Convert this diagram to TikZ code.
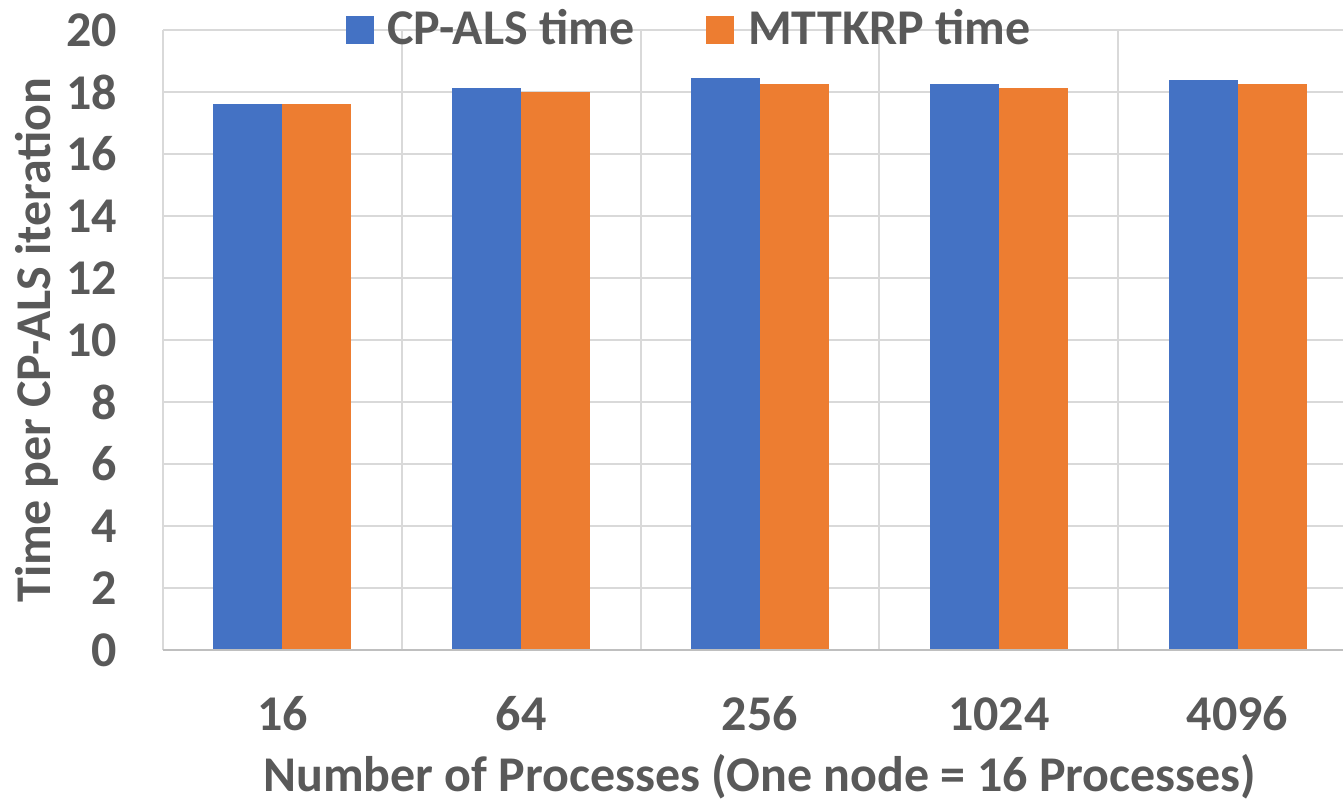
\documentclass[tikz,border=0pt]{standalone}
\usepackage{fontspec}
\setmainfont{Carlito}
\definecolor{txt}{HTML}{595959}
\definecolor{gridc}{HTML}{D9D9D9}
\definecolor{axisc}{HTML}{BFBFBF}
\definecolor{serA}{HTML}{4472C4}
\definecolor{serB}{HTML}{ED7D31}
\tikzset{
  lbl/.style={text=txt, font=\bfseries\fontsize{50}{55}\selectfont, inner sep=0pt},
  ticklbl/.style={lbl, anchor=east},
  catlbl/.style={lbl, anchor=base},
  gridline/.style={draw=gridc, line width=2pt},
  axisline/.style={draw=axisc, line width=2.5pt},
  barA/.style={fill=serA},
  barB/.style={fill=serB}
}
\begin{document}
\begin{tikzpicture}[x=1pt,y=-1pt]
\useasboundingbox (0,0) rectangle (1343,801);
% horizontal grid and value labels
\foreach \v in {2,4,...,20} {
  \draw[gridline] (163,{650-31*\v}) -- (1343,{650-31*\v});
}
\foreach \v/\n in {0/a,2/b,4/c,6/d,8/e,10/f,12/g,14/h,16/i,18/j,20/k} {
  \node[ticklbl] (y\n) at (117,{650-31*\v}) {\v};
}
% vertical grid between categories
\foreach \k in {0,...,4} {
  \draw[gridline] ({163+238.8*\k},30) -- ({163+238.8*\k},650);
}
% bars
\foreach \i/\a/\b/\lab in {0/17.6/17.6/16, 1/18.12/17.99/64, 2/18.45/18.26/256, 3/18.26/18.13/1024, 4/18.39/18.26/4096} {
  \pgfmathsetmacro{\cx}{163+238.8*(\i+0.5)}
  \fill[barA] ({\cx-69},650) rectangle (\cx,{650-31*\a});
  \fill[barB] (\cx,650) rectangle ({\cx+69},{650-31*\b});
  \node[catlbl] (c\i) at (\cx,730) {\lab};
}
% category axis
\draw[axisline] (163,650) -- (1343,650);
% axis titles
\node[lbl, rotate=90, anchor=base] (ytitle) at (50,340) {Time per CP-ALS iteration};
\node[lbl, anchor=base] (xtitle) at (760,791) {Number of Processes (One node = 16 Processes)};
% legend
\fill[barA] (346,16) rectangle (374,44);
\node[lbl, anchor=base west] (legA) at (387,44) {CP-ALS time};
\fill[barB] (706,16) rectangle (734,44);
\node[lbl, anchor=base west] (legB) at (748,44) {MTTKRP time};
\end{tikzpicture}
\end{document}
